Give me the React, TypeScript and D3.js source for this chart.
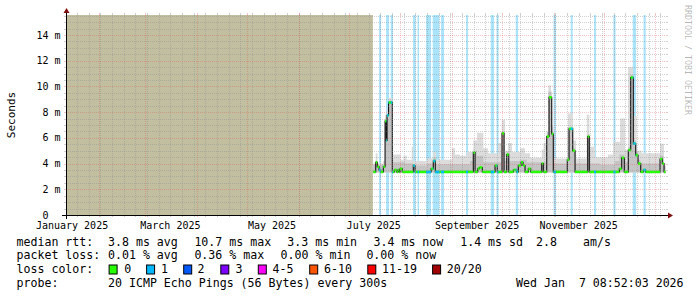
import React from 'react';
import * as d3 from 'd3';

// ---------- data ----------
const END = Date.UTC(2026, 0, 7, 8, 52, 3);
const SPAN_DAYS = 360;
const BASE = Date.UTC(2025, 6, 1); // day offsets below are relative to 2025-07-01
const DATA_START = 14.5;
const DATA_END = 190.1;
const Y_MAX = 15.556;
const yMajorTicks = [0, 2, 4, 6, 8, 10, 12, 14];

// median rtt (ms) as step breakpoints [day, value]
const medianSteps: [number, number][] = [
  [14.75, 3.35], [16.2, 4.1], [17.15, 3.75], [18.2, 3.5], [19.2, 3.35], [20.75, 3.75], [21.8, 7.3],
  [22.55, 5.8], [23.0, 7.75], [23.9, 8.75], [26.15, 3.35], [27.35, 3.5], [28.8, 3.35], [29.6, 3.5],
  [30.35, 3.35], [30.8, 3.6], [32.15, 3.35], [38.75, 3.85], [39.8, 3.35], [49.4, 3.6], [50.75, 4.2],
  [51.95, 3.35], [74.75, 4.85], [75.8, 3.35], [77.4, 3.6], [78.35, 3.7], [80.15, 3.35], [87.8, 3.85],
  [89.15, 3.35], [92.0, 6.35], [93.2, 3.35], [94.8, 4.7], [96.0, 3.35], [98.75, 3.5], [100.8, 3.35],
  [101.75, 3.85], [103.4, 4.1], [104.6, 3.85], [105.8, 3.35], [107.75, 3.6], [109.2, 3.35], [115.8, 4.0],
  [116.75, 3.35], [118.8, 6.1], [120.2, 9.15], [121.8, 6.3], [122.75, 3.35], [131.15, 4.3], [132.2, 6.7],
  [134.4, 5.0], [135.8, 3.35], [143.4, 6.1], [144.35, 3.35], [162.35, 3.6], [163.8, 4.45], [165.35, 3.35],
  [167.75, 5.05], [169.2, 10.7], [170.75, 5.55], [172.2, 4.65], [173.6, 4.0], [175.2, 3.35], [176.75, 3.5],
  [178.2, 3.35], [186.8, 4.35], [188.15, 4.0], [189.2, 3.35],
];

// intervals with 1 lost ping [dayFrom, dayTo]
const lossOne: [number, number][] = [
  [18.2, 19.4], [22.4, 24.2], [25.2, 26.6], [38.6, 40.2], [41.3, 42.2], [46.4, 49.4], [50.4, 54.4],
  [55.4, 57.2], [70.4, 71.6], [85.2, 87.2], [88.7, 89.9], [100.2, 101.6], [122.9, 124.4], [133.2, 134.4],
  [147.2, 148.4], [158.8, 160.1], [170.4, 172.4], [176.9, 178.2],
];

// smoke: max ping and upper-middle ping (ms) step breakpoints
const smokeMax: [number, number][] = [
  [14.5, 4.0], [16.2, 4.8], [17.3, 4.0], [20.6, 4.2], [21.8, 7.8], [23.0, 8.3], [23.9, 9.1], [26.3, 4.7],
  [31.2, 4.3], [32.8, 4.6], [34.8, 4.3], [37.8, 5.3], [38.8, 4.2], [46.8, 4.4], [50.8, 4.9], [52.4, 4.3],
  [61.8, 5.2], [63.8, 4.7], [66.8, 4.6], [70.8, 4.9], [74.8, 5.8], [77.0, 6.4], [80.8, 5.2], [83.6, 4.8],
  [89.6, 5.6], [91.8, 7.4], [93.8, 5.0], [95.6, 5.6], [98.0, 4.9], [102.8, 5.2], [105.8, 4.8], [108.8, 4.45],
  [115.8, 5.1], [116.9, 5.6], [119.8, 10.1], [121.4, 6.9], [122.8, 4.4], [131.6, 7.9], [134.6, 5.8],
  [136.4, 4.4], [142.8, 7.8], [144.4, 5.3], [147.8, 4.5], [155.6, 4.7], [158.6, 5.7], [162.8, 7.5],
  [165.8, 5.05], [167.6, 11.5], [170.6, 7.7], [172.8, 5.0], [175.8, 4.8], [186.8, 5.55], [189.2, 4.0],
];
const smokeMid: [number, number][] = [
  [14.5, 3.9], [21.8, 7.5], [23.9, 8.9], [26.3, 4.1], [33.8, 4.0], [38.6, 3.85], [46.8, 4.0], [50.8, 4.5],
  [52.4, 3.95], [72.8, 4.2], [74.8, 5.0], [76.8, 4.6], [80.8, 4.1], [91.8, 6.5], [93.2, 4.2], [94.8, 4.9],
  [96.2, 4.2], [102.8, 4.3], [106.8, 4.1], [118.8, 6.5], [119.8, 9.6], [121.8, 6.5], [122.8, 4.0],
  [131.2, 6.8], [134.6, 5.2], [135.8, 4.0], [143.4, 6.3], [144.4, 4.0], [150.8, 3.9], [159.8, 4.2],
  [162.4, 4.7], [165.4, 4.1], [167.8, 5.3], [169.0, 10.9], [170.8, 5.8], [172.2, 4.9], [173.4, 4.3],
  [175.0, 4.0], [186.8, 4.6], [188.8, 3.8],
];
const SMOKE_FLOOR = 3.3;

const rttStats = ['3.8 ms avg', '10.7 ms max', '3.3 ms min', '3.4 ms now', '1.4 ms sd', '2.8', 'am/s'];
const lossStats = ['0.01 % avg', '0.36 % max', '0.00 % min', '0.00 % now'];
const lossLegend: [string, string][] = [
  ['0', '#26ff00'], ['1', '#00b8ff'], ['2', '#0059ff'], ['3', '#7e00ff'],
  ['4-5', '#ff00ff'], ['6-10', '#ff5500'], ['11-19', '#ff0000'], ['20/20', '#a10000'],
];
const probeText = '20 ICMP Echo Pings (56 Bytes) every 300s';
const stampText = 'Wed Jan  7 08:52:03 2026';

// ---------- layout ----------
const W = 697, H = 297;
const X0 = 66, X1 = 666, YB = 215, YT = 15;
const rttX = [108, 194.4, 287.3, 373.5, 460.2, 536, 583.1];
const lossX = [108, 194.4, 280.6, 366.4];
const boxX = [108.6, 146.1, 183.2, 220.3, 257.8, 309.2, 367.3, 432.1];
const boxLabelX = [124.2, 160.9, 197.5, 235.5, 272.6, 324, 382, 446.8];
const MONO = "'DejaVu Sans Mono', monospace";

export default function App() {
  const start = new Date(END - SPAN_DAYS * 864e5);
  const end = new Date(END);
  const x = d3.scaleUtc().domain([start, end]).range([X0, X1]);
  const y = d3.scaleLinear().domain([0, Y_MAX]).range([YB, YT]);
  const dd = (d: number) => new Date(BASE + d * 864e5);
  const xd = (d: number) => x(dd(d));

  const withEnd = (arr: [number, number][]) => [...arr, [DATA_END, arr[arr.length - 1][1]] as [number, number]];
  const area = d3.area<[number, number]>().curve(d3.curveStepAfter)
    .x((p) => xd(p[0])).y0(y(SMOKE_FLOOR)).y1((p) => y(p[1]));
  const line = d3.line<[number, number]>().curve(d3.curveStepAfter)
    .x((p) => xd(p[0])).y((p) => y(p[1]));

  const segs = medianSteps.map((p, i) => ({
    d0: p[0], d1: i + 1 < medianSteps.length ? medianSteps[i + 1][0] : DATA_END, v: p[1],
  }));
  const blueSegs: { d0: number; d1: number; v: number }[] = [];
  segs.forEach((s) => lossOne.forEach((l) => {
    const a = Math.max(s.d0, l[0]); const b = Math.min(s.d1, l[1]);
    if (b > a) blueSegs.push({ d0: a, d1: b, v: s.v });
  }));

  const minorY = d3.range(0.5, Y_MAX, 0.5).filter((v) => v % 2 !== 0);
  const minorX = d3.utcSunday.range(start, end);
  const majorX = d3.utcMonth.range(start, end);
  const labelMonths = d3.utcMonth.every(2)!.range(d3.utcMonth.offset(start, -1), end)
    .map((m) => ({ m, c: new Date(+m + 15 * 864e5) }))
    .filter((o) => o.c >= start && o.c <= end);
  const fmt = d3.utcFormat('%B %Y');
  const px = (v: number) => Math.round(v) + 0.5;
  const BAND = 1.3;

  return (
    <svg width={W} height={H} style={{ position: 'absolute', left: 0, top: 0, background: '#fff' }}
      fontFamily={MONO}>
      <rect x={0} y={0} width={W} height={H} fill="#fff" />
      {/* unknown-data region */}
      <rect x={X0} y={YT} width={xd(DATA_START) - X0} height={YB - YT} fill="#c1bfa0" />
      {/* loss background bars */}
      {lossOne.map((l, i) => (
        <rect key={i} x={xd(l[0])} y={YT} width={xd(l[1]) - xd(l[0])} height={YB - YT} fill="#aae4fa" />
      ))}
      {/* smoke */}
      <path d={area(withEnd(smokeMax))!} fill="#dcdcdc" />
      <path d={area(withEnd(smokeMid))!} fill="#c4c4c4" />
      {/* median */}
      <path d={line(withEnd(medianSteps))!} fill="none" stroke="#111" strokeWidth={1.1} />
      {segs.map((s, i) => (
        <rect key={'g' + i} x={xd(s.d0)} y={y(s.v) - BAND} width={xd(s.d1) - xd(s.d0)} height={2 * BAND} fill="#26ff00" />
      ))}
      {blueSegs.map((s, i) => (
        <rect key={'b' + i} x={xd(s.d0)} y={y(s.v) - BAND} width={xd(s.d1) - xd(s.d0)} height={2 * BAND} fill="#00b8ff" />
      ))}
      {/* grid */}
      <g shapeRendering="crispEdges">
        {minorY.map((v) => (
          <g key={'my' + v} stroke="#909090" strokeOpacity={0.42}>
            <line x1={X0 - 2} x2={X0} y1={px(y(v))} y2={px(y(v))} />
            <line x1={X1} x2={X1 + 2} y1={px(y(v))} y2={px(y(v))} />
            <line x1={X0} x2={X1} y1={px(y(v))} y2={px(y(v))} strokeDasharray="1 1" />
          </g>
        ))}
        {minorX.map((t) => (
          <g key={'mx' + +t} stroke="#909090" strokeOpacity={0.42}>
            <line x1={px(x(t))} x2={px(x(t))} y1={YB} y2={YB + 2} />
            <line x1={px(x(t))} x2={px(x(t))} y1={YT - 2} y2={YT} />
            <line x1={px(x(t))} x2={px(x(t))} y1={YT} y2={YB} strokeDasharray="1 1" />
          </g>
        ))}
        {yMajorTicks.filter((v) => v > 0).map((v) => (
          <g key={'My' + v} stroke="#e05050" strokeOpacity={0.33}>
            <line x1={X0 - 2} x2={X0} y1={px(y(v))} y2={px(y(v))} />
            <line x1={X1} x2={X1 + 2} y1={px(y(v))} y2={px(y(v))} />
            <line x1={X0} x2={X1} y1={px(y(v))} y2={px(y(v))} strokeDasharray="1 1" />
          </g>
        ))}
        {majorX.map((t) => (
          <g key={'Mx' + +t} stroke="#e05050" strokeOpacity={0.33}>
            <line x1={px(x(t))} x2={px(x(t))} y1={YB} y2={YB + 2} />
            <line x1={px(x(t))} x2={px(x(t))} y1={YT - 2} y2={YT} />
            <line x1={px(x(t))} x2={px(x(t))} y1={YT} y2={YB} strokeDasharray="1 1" />
          </g>
        ))}
        {/* axes */}
        <line x1={X0 - 4} x2={X1 + 4} y1={YB + 0.5} y2={YB + 0.5} stroke="#000" />
        <line x1={X0 + 0.5} x2={X0 + 0.5} y1={YB + 4} y2={YT - 4} stroke="#000" />
      </g>
      <polygon points={`${X1 + 2},${YB + 0.5 - 3} ${X1 + 2},${YB + 0.5 + 3} ${X1 + 7},${YB + 0.5}`} fill="#801010" />
      <polygon points={`${X0 + 0.5 - 3},${YT - 2} ${X0 + 0.5 + 3},${YT - 2} ${X0 + 0.5},${YT - 7}`} fill="#801010" />
      {/* y tick labels */}
      {yMajorTicks.map((v) => (
        <text key={'yl' + v} x={60.5} y={y(v) + 3.5} fontSize={10} textAnchor="end" xmlSpace="preserve"
          style={{ whiteSpace: 'pre' }}>{v === 0 ? '0  ' : `${v} m`}</text>
      ))}
      {/* x tick labels */}
      {labelMonths.map((o) => (
        <text key={'xl' + +o.m} x={x(o.c)} y={228.5} fontSize={10} textAnchor="middle">{fmt(o.m)}</text>
      ))}
      {/* axis title */}
      <text transform={`translate(15,115) rotate(-90)`} fontSize={11} textAnchor="middle">Seconds</text>
      {/* watermark */}
      <text transform={`translate(684.5,5) rotate(90)`} fontSize={8.3} fill="#000" fillOpacity={0.3}>RRDTOOL / TOBI OETIKER</text>
      {/* legend */}
      <g fontSize={11.6} fill="#000">
        <text x={16.5} y={245.5}>median rtt:</text>
        {rttStats.map((s, i) => <text key={'r' + i} x={rttX[i]} y={245.5}>{s}</text>)}
        <text x={16.5} y={259.3}>packet loss:</text>
        {lossStats.map((s, i) => <text key={'l' + i} x={lossX[i]} y={259.3}>{s}</text>)}
        <text x={16.5} y={273.2}>loss color:</text>
        {lossLegend.map(([lab, col], i) => (
          <g key={'lc' + i}>
            <rect x={boxX[i] + 0.5} y={265} width={8} height={9} fill={col} stroke="#000" strokeWidth={1} />
            <text x={boxLabelX[i]} y={273.2}>{lab}</text>
          </g>
        ))}
        <text x={16.5} y={287.1}>probe:</text>
        <text x={108} y={287.1}>{probeText}</text>
        <text x={683.6} y={287.1} textAnchor="end" xmlSpace="preserve" style={{ whiteSpace: 'pre' }}>{stampText}</text>
      </g>
    </svg>
  );
}
